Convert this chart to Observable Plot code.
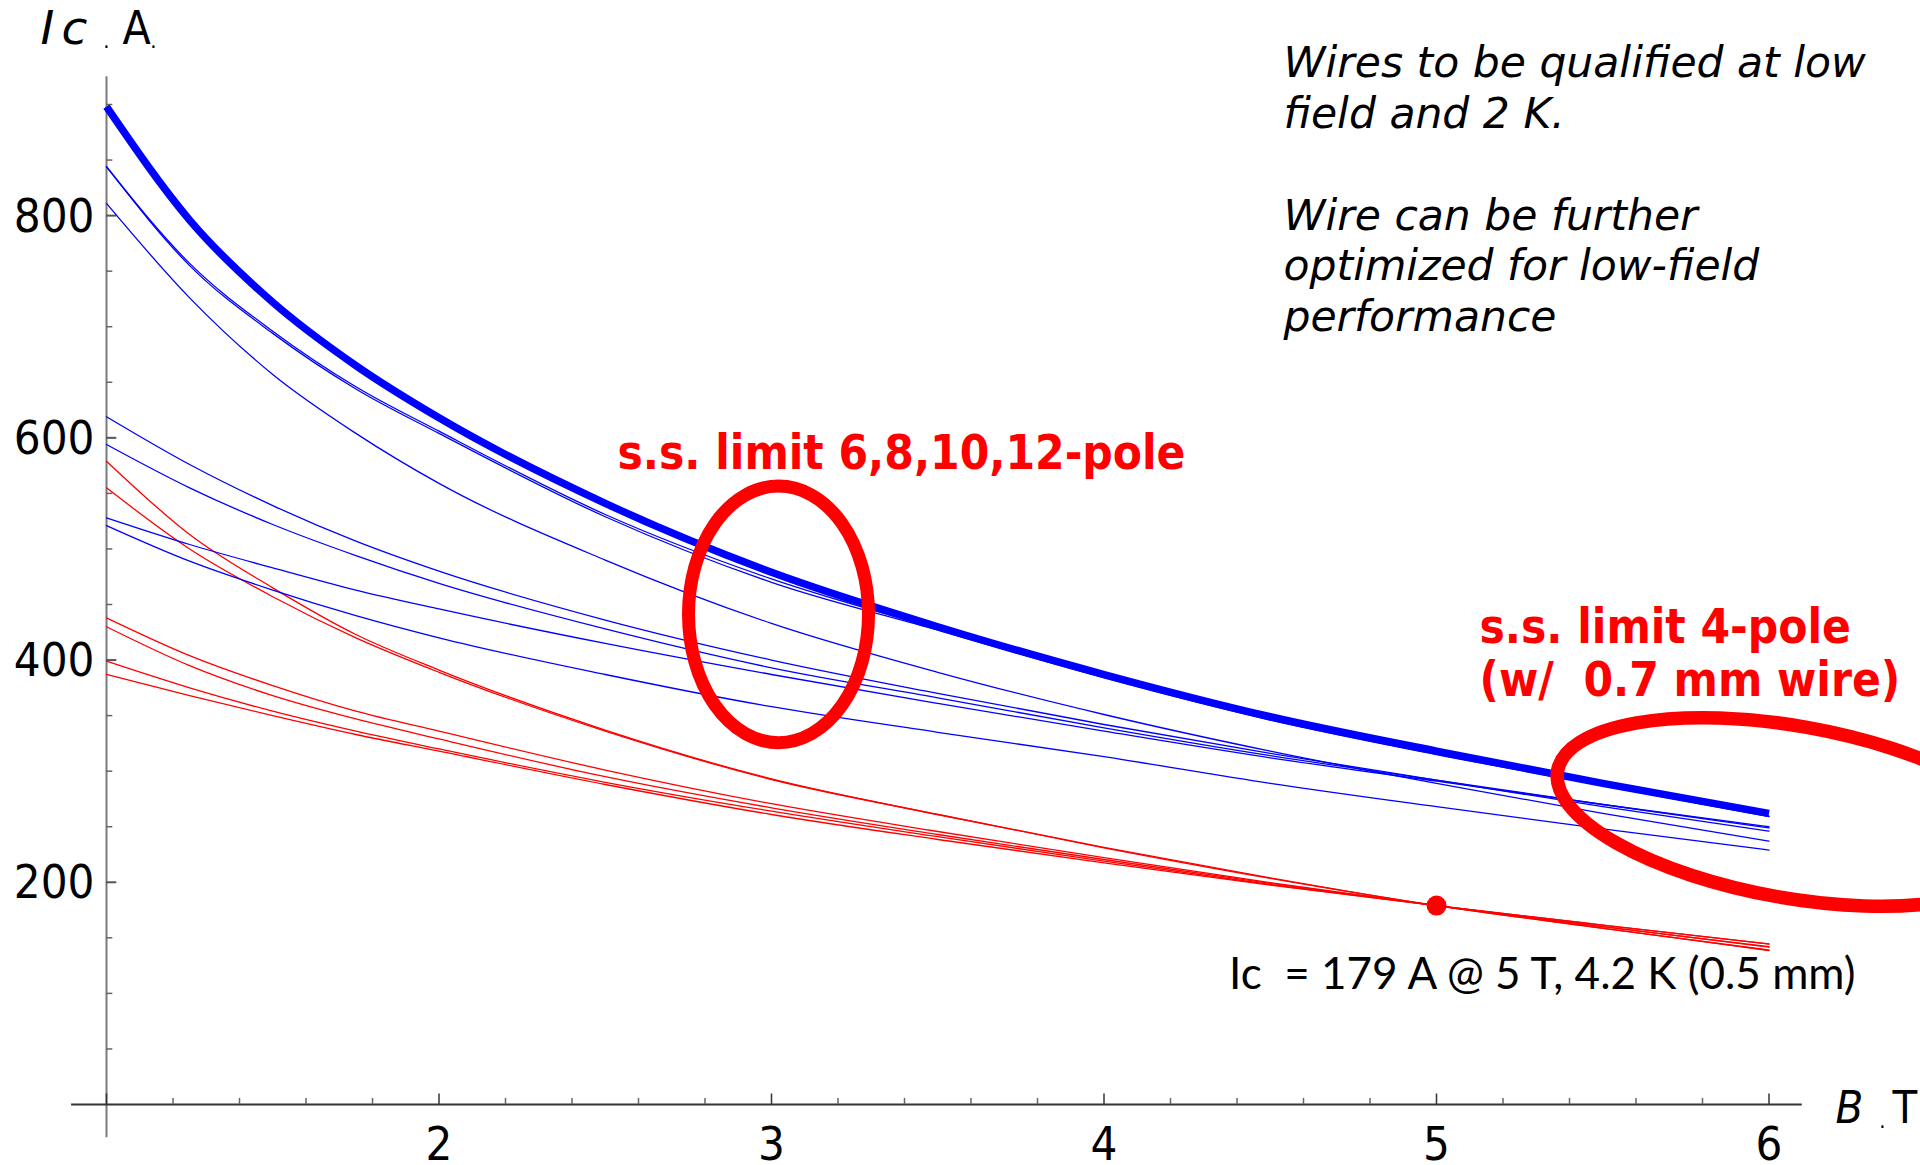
<!DOCTYPE html>
<html>
<head>
<meta charset="utf-8">
<script src="https://cdn.jsdelivr.net/npm/d3@7"></script>
<script src="https://cdn.jsdelivr.net/npm/@observablehq/plot@0.6"></script>
<style>
  html, body { margin: 0; padding: 0; background: #fff; }
  #chart svg { display: block; }
</style>
</head>
<body>
<div id="chart"></div>
<script>
// ---- data ----
const fieldB = [1, 1.25, 1.5, 1.75, 2, 2.5, 3, 3.5, 4, 4.5, 5, 5.5, 6];

const blueThick = [898, 796, 722, 665, 618, 541, 479, 430, 387, 349, 318, 289, 262];

const blueA1 = [844, 757, 696, 646, 606, 531, 473, 428, 385, 347, 316, 287, 259.5];
const blueA2 = [844, 755, 694, 644, 604, 529, 470, 427, 384, 346, 315, 287, 259];
const blueB  = [811, 726, 657, 604, 559, 490, 433, 389, 351, 318, 289, 262, 237];
const blueC  = [619, 576, 539, 507, 480, 436, 400, 370, 342, 316, 292, 268, 246];
const blueD  = [594, 555, 522, 494, 469, 428, 393, 366, 339, 314, 292, 270, 249];
const blueE  = [528, 504, 483, 463, 446, 415, 387, 361, 336, 312, 291, 270, 250];
const blueF  = [521, 489, 463, 440, 420, 387, 358, 335, 313, 289, 268, 248, 229];

const red1 = [579, 513, 465, 423, 391, 337, 293, 261, 231.5, 204, 179, 158.5, 139];
const red2 = [555, 500, 457, 420, 389, 336, 292.5, 261, 231, 203.5, 179, 158.8, 138.6];
const red3 = [438, 404, 377, 354, 336, 301, 270.7, 245.7, 222.2, 199.7, 179, 160, 142];
const red4 = [430, 395, 368, 347, 329, 295, 267, 243, 220.5, 199, 179, 160, 141.6];
const red5 = [399, 375, 354, 336, 320, 290, 264, 241, 219, 198, 179, 161.5, 144.6];
const red6 = [387, 368, 350, 333, 318, 288, 261, 238.5, 217.5, 197.5, 179, 161.5, 144.4];

const refPointB = [5];
const refPointIc = [179];

const yMajorTicks = [200, 400, 600, 800];
const yMinorTicks = [50, 100, 150, 250, 300, 350, 450, 500, 550, 650, 700, 750, 850, 900];
const xMajorTicks = [1, 2, 3, 4, 5, 6];
const xMinorTicks = [1.2, 1.4, 1.6, 1.8, 2.2, 2.4, 2.6, 2.8, 3.2, 3.4, 3.6, 3.8, 4.2, 4.4, 4.6, 4.8, 5.2, 5.4, 5.6, 5.8];
const xTickLabels = [2, 3, 4, 5, 6];
const yTickLabels = [200, 400, 600, 800];

// ---- build tables ----
const toRows = (name, values) => fieldB.map((b, i) => ({series: name, B: b, Ic: values[i]}));
const thinBlueRows = [
  ...toRows("A1", blueA1), ...toRows("A2", blueA2), ...toRows("B", blueB),
  ...toRows("C", blueC), ...toRows("D", blueD), ...toRows("E", blueE), ...toRows("F", blueF)
];
const redRows = [
  ...toRows("R1", red1), ...toRows("R2", red2), ...toRows("R3", red3),
  ...toRows("R4", red4), ...toRows("R5", red5), ...toRows("R6", red6)
];
const thickRows = toRows("thick", blueThick);
const refRows = refPointB.map((b, i) => ({B: b, Ic: refPointIc[i]}));

const fontMain = "'DejaVu Sans Condensed', 'DejaVu Sans', sans-serif";
const fontWide = "'DejaVu Sans', Verdana, sans-serif";
const fontNote = "Lato, 'Liberation Sans', sans-serif";

function label(t, x, y, o = {}) {
  return Plot.text([t], {
    x: [x], y: [y], text: [t],
    lineAnchor: "bottom", textAnchor: "start",
    fontFamily: fontMain, fill: "#000", ...o
  });
}

const chart = Plot.plot({
  width: 1920,
  height: 1165,
  marginLeft: 39.5,
  marginRight: 18.5,
  marginTop: 4,
  marginBottom: 1,
  x: {domain: [0.8, 6.4], axis: null},
  y: {domain: [-54, 990], axis: null},
  style: {background: "#fff", fontFamily: fontMain, overflow: "visible"},
  marks: [
    // axes
    Plot.ruleX([1], {y1: -30, y2: 925, stroke: "#7a7a7a", strokeWidth: 2}),
    Plot.ruleY([0], {x1: 0.895, x2: 6.1, stroke: "#333", strokeWidth: 2}),
    Plot.ruleY(yMajorTicks, {x1: 1, x2: 1.031, stroke: "#555", strokeWidth: 2}),
    Plot.ruleY(yMinorTicks, {x1: 1, x2: 1.019, stroke: "#666", strokeWidth: 1.5}),
    Plot.ruleX(xMajorTicks, {y1: 0, y2: 9.5, stroke: "#333", strokeWidth: 1.5}),
    Plot.ruleX(xMinorTicks, {y1: 0, y2: 5.5, stroke: "#666", strokeWidth: 1.5}),
    Plot.text(yTickLabels, {x: 1, y: d => d, text: d => String(d), textAnchor: "end", lineAnchor: "middle",
      dx: -12, dy: 1, fontSize: 47, fontFamily: fontMain, fill: "#000"}),
    Plot.text(xTickLabels, {x: d => d, y: 0, text: d => String(d), textAnchor: "middle", lineAnchor: "top",
      dy: 22, fontSize: 47, fontFamily: fontMain, fill: "#000"}),

    // curves
    Plot.line(redRows, {x: "B", y: "Ic", z: "series", stroke: "#ff0000", strokeWidth: 1.3, curve: "monotone-x"}),
    Plot.line(thinBlueRows, {x: "B", y: "Ic", z: "series", stroke: "#0000ff", strokeWidth: 1.3, curve: "monotone-x"}),
    Plot.line(thickRows, {x: "B", y: "Ic", stroke: "#0000ff", strokeWidth: 7.5, curve: "monotone-x", strokeLinecap: "butt"}),
    Plot.dot(refRows, {x: "B", y: "Ic", r: 10, fill: "#ff0000", stroke: null}),

    // axis labels
    label("I", 0.8015, 954.9, {fontSize: 47, fontStyle: "italic", fontFamily: fontWide}),
    label("c", 0.8647, 954.9, {fontSize: 47, fontStyle: "italic", fontFamily: fontWide}),
    label(".", 1, 951.3, {fontSize: 22, textAnchor: "middle"}),
    label("A", 1.0481, 954.9, {fontSize: 46}),
    label(".", 1.1414, 951.3, {fontSize: 22, textAnchor: "middle"}),
    label("B", 6.2, -16.2, {fontSize: 45, fontStyle: "italic"}),
    label(".", 6.3414, -20.7, {fontSize: 22, textAnchor: "middle"}),
    label("T", 6.3714, -16.2, {fontSize: 45}),

    // annotations
    label("Wires to be qualified at low\nfield and 2 K.\n\nWire can be further\noptimized for low-field\nperformance",
      4.5398, 696, {fontSize: 42.5, fontStyle: "italic", fontFamily: fontWide, lineHeight: 1.195}),
    label("s.s. limit 6,8,10,12-pole", 2.5368, 572.4, {fontSize: 47.3, fontWeight: "bold", fill: "#ff0000"}),
    label("s.s. limit 4-pole\n(w/\u00a0 0.7 mm wire)", 5.1293, 368.1, {fontSize: 47.3, fontWeight: "bold", fill: "#ff0000", lineHeight: 1.1}),
    label("Ic\u00a0 = 179 A @ 5 T, 4.2 K (0.5 mm)", 4.3762, 103.8, {fontSize: 44, fontFamily: fontNote})
  ]
});

document.getElementById("chart").appendChild(chart);

// highlight ellipses, positioned through the plot's own scales
const sx = chart.scale("x"), sy = chart.scale("y");
const svg = d3.select(chart);
const ell1 = {B: 3.0226, Ic: 440.7};
const ell2 = {B: 6.0707, Ic: 262.8};
svg.append("ellipse")
  .attr("cx", sx.apply(ell1.B)).attr("cy", sy.apply(ell1.Ic))
  .attr("rx", 90).attr("ry", 128.3)
  .attr("fill", "none").attr("stroke", "#ff0000").attr("stroke-width", 13);
const c2x = sx.apply(ell2.B), c2y = sy.apply(ell2.Ic);
svg.append("ellipse")
  .attr("cx", c2x).attr("cy", c2y)
  .attr("rx", 238).attr("ry", 86)
  .attr("transform", `rotate(10 ${c2x} ${c2y})`)
  .attr("fill", "none").attr("stroke", "#ff0000").attr("stroke-width", 13.5);
</script>
</body>
</html>
